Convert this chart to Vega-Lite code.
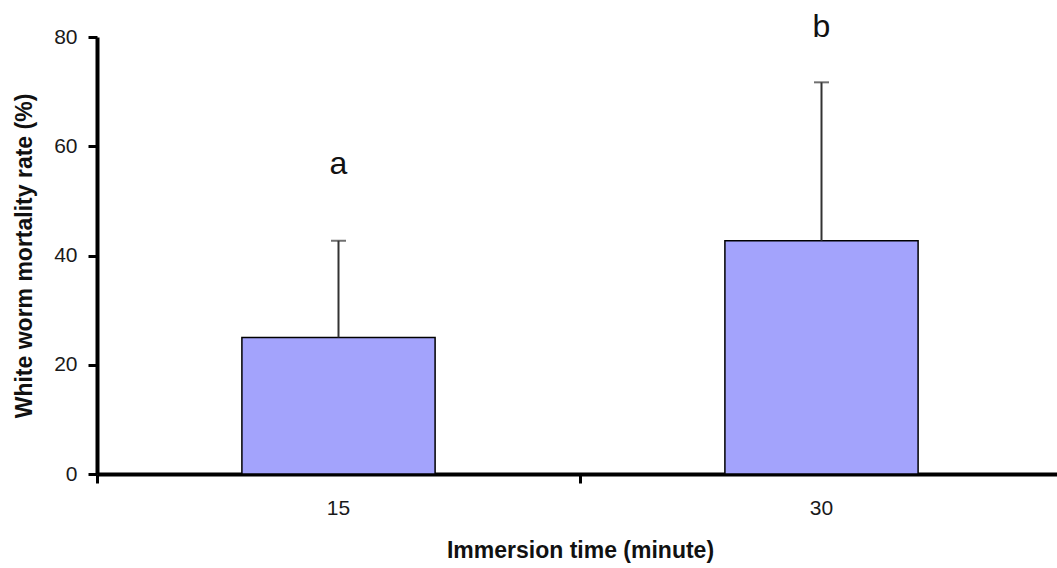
{
  "$schema": "https://vega.github.io/schema/vega-lite/v6.json",
  "width": 960,
  "height": 437,
  "autosize": {"type": "none"},
  "padding": {"left": 97, "top": 37, "right": 0, "bottom": 94},
  "background": "#ffffff",
  "config": {
    "view": {"stroke": null},
    "font": "Liberation Sans",
    "axis": {"grid": false}
  },
  "data": {
    "values": [
      {"time": "15", "mortality": 25.0, "upper": 42.7, "letter": "a", "letterY": 55},
      {"time": "30", "mortality": 42.7, "upper": 71.7, "letter": "b", "letterY": 80}
    ]
  },
  "layer": [
    {
      "layer": [
        {
          "mark": {"type": "bar", "fill": "#a3a3fc", "stroke": "#000000", "strokeWidth": 1.5},
          "encoding": {
            "y": {
              "field": "mortality",
              "type": "quantitative",
              "scale": {"domain": [0, 80], "nice": false},
              "axis": {
                "title": "White worm mortality rate (%)",
                "values": [0, 20, 40, 60, 80],
                "domainColor": "#000000",
                "domainWidth": 4,
                "tickColor": "#000000",
                "tickSize": 9,
                "tickWidth": 3,
                "labelFontSize": 21,
                "labelColor": "#1a1a1a",
                "labelPadding": 11,
                "titleFontSize": 23,
                "titleFontWeight": "bold",
                "titleColor": "#111111",
                "titlePadding": 17
              }
            }
          }
        },
        {
          "mark": {"type": "rule", "color": "#333333", "strokeWidth": 2},
          "encoding": {
            "y": {"field": "mortality", "type": "quantitative"},
            "y2": {"field": "upper"}
          }
        },
        {
          "mark": {"type": "tick", "color": "#333333", "size": 15, "thickness": 2},
          "encoding": {
            "y": {"field": "upper", "type": "quantitative"}
          }
        },
        {
          "mark": {"type": "text", "fontSize": 32, "baseline": "alphabetic", "color": "#111111", "clip": false},
          "encoding": {
            "y": {"field": "letterY", "type": "quantitative"},
            "text": {"field": "letter"}
          }
        }
      ],
      "encoding": {
        "x": {
          "field": "time",
          "type": "nominal",
          "sort": null,
          "scale": {"range": [0, 966], "paddingInner": 0.6, "paddingOuter": 0.3},
          "axis": {
            "title": "Immersion time (minute)",
            "orient": "bottom",
            "labelAngle": 0,
            "domainColor": "#000000",
            "domainWidth": 4,
            "ticks": false,
            "labelFontSize": 21,
            "labelColor": "#1a1a1a",
            "labelPadding": 23,
            "titleFontSize": 23,
            "titleFontWeight": "bold",
            "titleColor": "#111111",
            "titlePadding": 21
          }
        }
      }
    },
    {
      "mark": {"type": "point", "opacity": 0},
      "encoding": {
        "x": {
          "datum": 0,
          "type": "quantitative",
          "scale": {"domain": [0, 2], "range": [0, 966], "nice": false, "zero": false},
          "axis": {
            "orient": "bottom",
            "title": null,
            "values": [0, 1, 2],
            "domain": false,
            "labels": false,
            "tickColor": "#000000",
            "tickSize": 9,
            "tickWidth": 3
          }
        },
        "y": {"datum": 0, "type": "quantitative"}
      }
    }
  ],
  "resolve": {"scale": {"x": "independent"}, "axis": {"x": "independent"}}
}
